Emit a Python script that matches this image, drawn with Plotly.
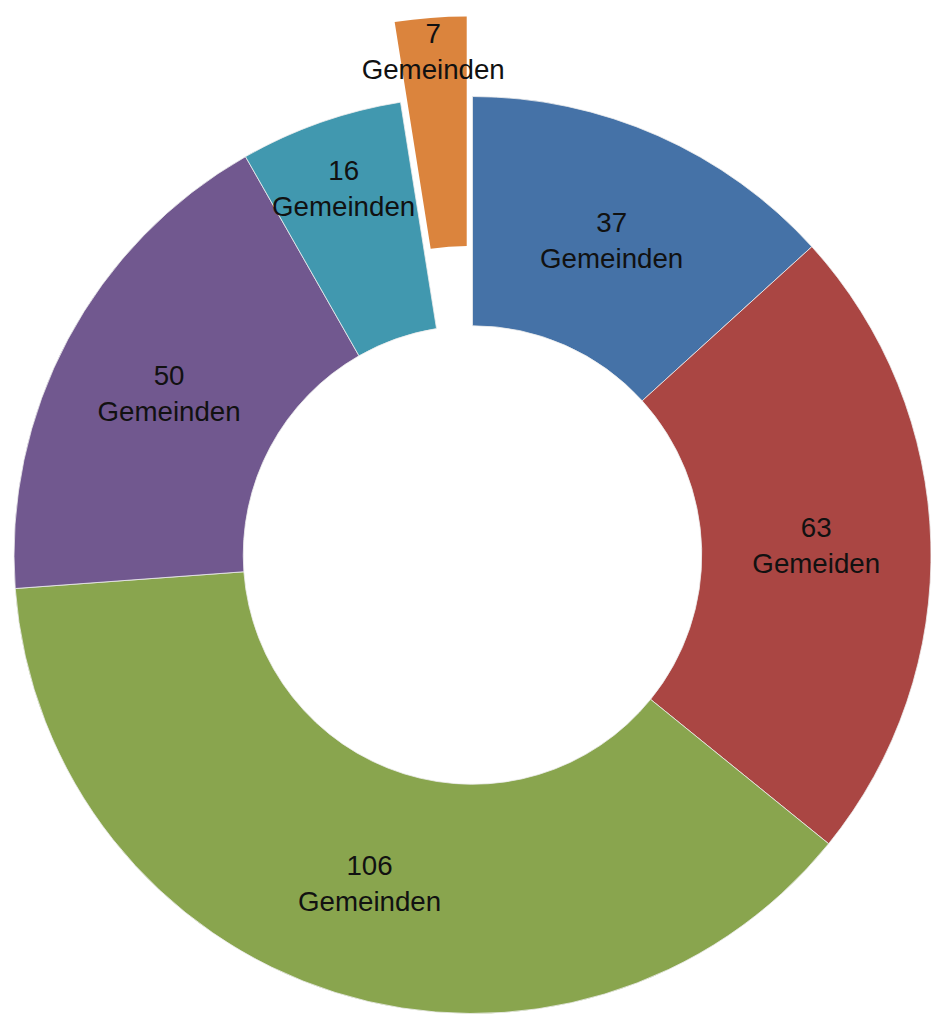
import math
import plotly.graph_objects as go

# data
counts = [37, 63, 106, 50, 16, 7]
labels = ["37<br>Gemeinden", "63<br>Gemeiden", "106<br>Gemeinden",
          "50<br>Gemeinden", "16<br>Gemeinden", "7<br>Gemeinden"]
colors = ["#4572A7", "#AA4643", "#89A54E", "#71588F", "#4198AF", "#DB843D"]
pulled_index = 5

W, H = 931, 1016
R = 459.0              # outer radius in px
CX, CY = 473.0, 555.0  # centre in figure px (from top-left)
PULL = 0.174

def dom(cx, cy):
    return dict(x=[max((cx - R) / W, 0.0), min((cx + R) / W, 1.0)],
                y=[max((H - (cy + R)) / H, 0.0), min((H - (cy - R)) / H, 1.0)])

total = sum(counts)
start = sum(counts[:pulled_index]) / total * 360.0
mid = start + counts[pulled_index] / total * 180.0
dx = R * PULL * math.sin(math.radians(mid))
dy = -R * PULL * math.cos(math.radians(mid))

main_text = [t if i != pulled_index else "" for i, t in enumerate(labels)]
main_colors = list(colors)
main_colors[pulled_index] = "rgba(0,0,0,0)"
line_main = ["#eeeeee" if i != pulled_index else "rgba(0,0,0,0)" for i in range(len(counts))]

font = dict(family="Liberation Sans, Arial", size=27.7, color="#111")

fig = go.Figure()
fig.add_trace(go.Pie(
    values=counts, text=main_text, textinfo="text", sort=False,
    direction="clockwise", rotation=0, hole=0.5,
    marker=dict(colors=main_colors, line=dict(color=line_main, width=0.8)),
    textposition="inside", insidetextorientation="horizontal",
    textfont=font, domain=dom(CX, CY), hoverinfo="none", showlegend=False,
))

pull_text = [t if i == pulled_index else "" for i, t in enumerate(labels)]
pull_colors = ["rgba(0,0,0,0)"] * len(counts)
pull_colors[pulled_index] = colors[pulled_index]
fig.add_trace(go.Pie(
    values=counts, text=pull_text, textinfo="text", sort=False,
    direction="clockwise", rotation=0, hole=0.5,
    marker=dict(colors=pull_colors, line=dict(width=0)),
    textposition="inside", insidetextorientation="horizontal",
    textfont=font, domain=dom(CX + dx, CY + dy), hoverinfo="none", showlegend=False,
))

fig.update_layout(
    width=W, height=H, margin=dict(l=0, r=0, t=0, b=0),
    paper_bgcolor="white", plot_bgcolor="white",
    uniformtext=dict(mode="show", minsize=27.7),
)
fig.write_html(
    "out.html",
    config={"displayModeBar": False},
    post_script="document.body.style.margin='0';document.body.style.overflow='hidden';",
)
